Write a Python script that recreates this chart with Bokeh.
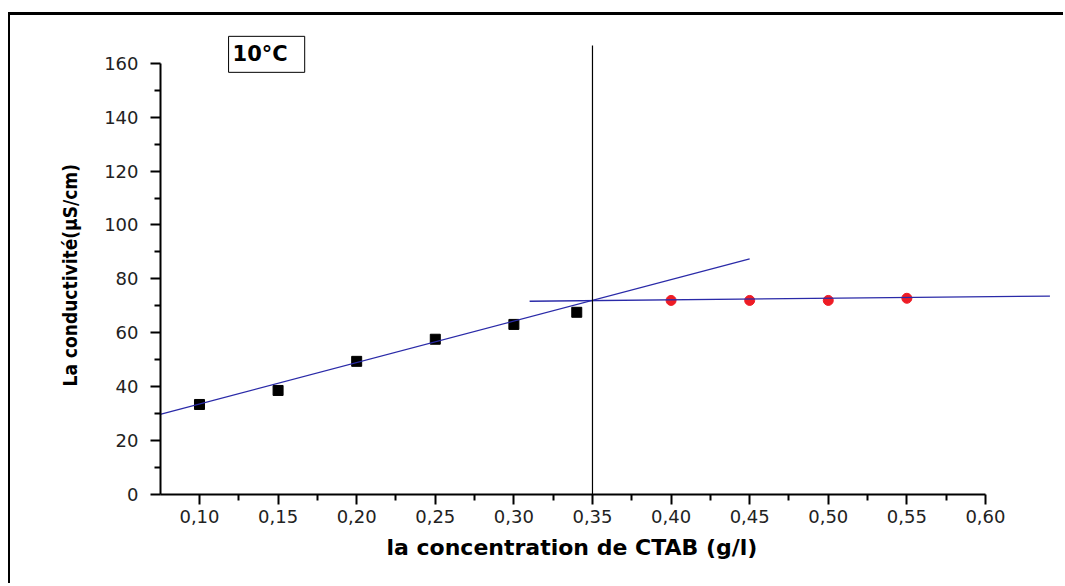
from bokeh.plotting import figure
from bokeh.models import Range1d, FixedTicker, CustomJSTickFormatter, Label, Title
from bokeh.embed import file_html
from bokeh.resources import INLINE

# ---- data ----
conc_pre = [0.10, 0.15, 0.20, 0.25, 0.30, 0.34]
cond_pre = [33.4, 38.6, 49.4, 57.6, 63.1, 67.6]
conc_post = [0.40, 0.45, 0.50, 0.55]
cond_post = [72.0, 72.0, 72.0, 72.8]
fit1_x = [0.075, 0.45]
fit1_y = [29.7, 87.4]
fit2_x = [0.31, 0.641]
fit2_y = [71.7, 73.6]
cmc_x = [0.35, 0.35]
cmc_y = [0.0, 166.6]
x_ticks = [0.10, 0.15, 0.20, 0.25, 0.30, 0.35, 0.40, 0.45, 0.50, 0.55, 0.60]
x_minor = [0.075, 0.125, 0.175, 0.225, 0.275, 0.325, 0.375, 0.425, 0.475, 0.525, 0.575]
y_ticks = [0, 20, 40, 60, 80, 100, 120, 140, 160]
y_minor = [10, 30, 50, 70, 90, 110, 130, 150]
legend_text = "10°C"
x_title = "la concentration de CTAB (g/l)"
y_title = "La conductivité(µS/cm)"

p = figure(width=1055, height=571, output_backend="svg", toolbar_location=None,
           x_range=Range1d(0.0752, 0.649), y_range=Range1d(0, 174.0),
           min_border_left=150, min_border_right=3, min_border_top=10, min_border_bottom=92)
p.styles = {"margin-left": "8px", "margin-top": "12px",
            "border-left": "2px solid black", "border-top": "3px solid black"}
p.outline_line_color = None
p.xgrid.visible = False
p.ygrid.visible = False
p.background_fill_color = "white"
p.border_fill_color = "white"

p.scatter(conc_pre, cond_pre, marker="square", size=10, color="black")
p.scatter(conc_post, cond_post, marker="circle", size=10, color="#ee1c25")
p.line(fit1_x, fit1_y, line_color="#2a2aa8", line_width=1.3)
p.line(fit2_x, fit2_y, line_color="#2a2aa8", line_width=1.3)
p.line(cmc_x, cmc_y, line_color="black", line_width=1.2)

for ax in (p.xaxis[0], p.yaxis[0]):
    ax.axis_line_width = 2
    ax.major_tick_line_width = 2
    ax.minor_tick_line_width = 2
    ax.major_tick_in = 0
    ax.minor_tick_in = 0
    ax.major_tick_out = 10
    ax.minor_tick_out = 6
    ax.major_label_text_font = "DejaVu Sans"
    ax.major_label_text_font_size = "18px"
    ax.major_label_text_color = "#222222"

p.xaxis.bounds = (0.075, 0.60)
p.yaxis.bounds = (0, 160)
p.xaxis.ticker = FixedTicker(ticks=x_ticks, minor_ticks=x_minor)
p.yaxis.ticker = FixedTicker(ticks=y_ticks, minor_ticks=y_minor)
p.xaxis.formatter = CustomJSTickFormatter(code="return tick.toFixed(2).replace('.', ',');")
p.xaxis.major_label_standoff = 5
p.yaxis.major_label_standoff = 12

# axis titles, centred on the drawn axis extent as in the reference
xt = Title(text=x_title, align="left", offset=226, standoff=15, text_font="DejaVu Sans",
           text_font_style="bold", text_font_size="22px", text_color="black")
yt = Title(text=y_title, align="left", offset=108, standoff=42, text_font="DejaVu Sans Condensed",
           text_font_style="bold", text_font_size="19px", text_color="black")
p.add_layout(xt, "below")
p.add_layout(yt, "left")

lab = Label(x=0.1185, y=163.3, text=legend_text, text_font="DejaVu Sans",
            text_font_style="bold", text_font_size="21px", text_baseline="middle",
            text_color="black", border_line_color="black", border_line_width=1,
            background_fill_color="white", padding=dict(left=4, right=17, top=6, bottom=6))
p.add_layout(lab)

open("out.html", "w").write(file_html(p, INLINE))
